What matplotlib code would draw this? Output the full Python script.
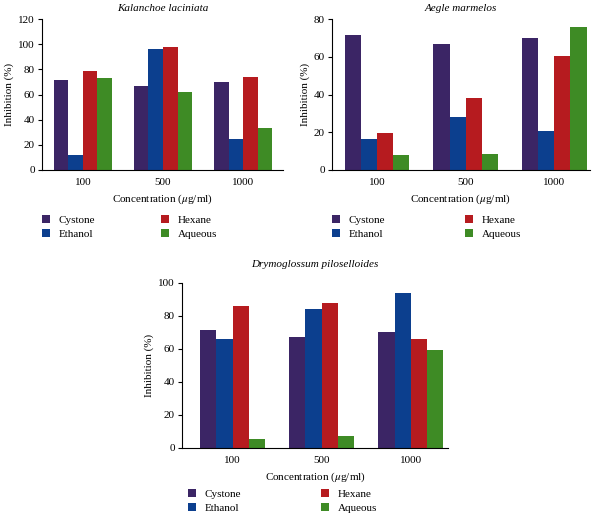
import matplotlib
matplotlib.use("Agg")
import matplotlib.pyplot as plt
import numpy as np

plt.rcParams["font.family"] = ["Liberation Serif", "DejaVu Serif"]
plt.rcParams["mathtext.fontset"] = "stix"

concentrations = ["100", "500", "1000"]
series = ["Cystone", "Ethanol", "Hexane", "Aqueous"]
colors = ["#3b2565", "#0c3f8e", "#b61b1f", "#3e8b25"]

kalanchoe_cystone = [71.2, 66.4, 69.9]
kalanchoe_ethanol = [12.2, 95.9, 24.7]
kalanchoe_hexane = [78.6, 97.5, 74.1]
kalanchoe_aqueous = [73.0, 61.9, 33.2]

aegle_cystone = [71.5, 66.7, 69.9]
aegle_ethanol = [16.6, 28.0, 20.5]
aegle_hexane = [19.8, 37.9, 60.2]
aegle_aqueous = [8.1, 8.7, 75.9]

drymo_cystone = [71.3, 66.9, 70.1]
drymo_ethanol = [66.1, 84.0, 93.5]
drymo_hexane = [85.7, 87.7, 65.9]
drymo_aqueous = [5.1, 6.9, 59.4]

# title, data, axes rect, ylim, yticks, xlim, legend anchor, column spacing, title pad
panels = [
    ("Kalanchoe laciniata",
     [kalanchoe_cystone, kalanchoe_ethanol, kalanchoe_hexane, kalanchoe_aqueous],
     [0.070, 0.670, 0.402, 0.293], (0, 120), np.arange(0, 121, 20), (-0.51, 2.5),
     (0.070, 0.582), 5.95, 6),
    ("Aegle marmelos",
     [aegle_cystone, aegle_ethanol, aegle_hexane, aegle_aqueous],
     [0.553, 0.670, 0.430, 0.293], (0, 80), np.arange(0, 81, 20), (-0.51, 2.4),
     (0.553, 0.582), 7.2, 6),
    ("Drymoglossum piloselloides",
     [drymo_cystone, drymo_ethanol, drymo_hexane, drymo_aqueous],
     [0.303, 0.131, 0.444, 0.320], (0, 100), np.arange(0, 101, 20), (-0.57, 2.42),
     (0.313, 0.050), 7.2, 11),
]

fig = plt.figure(figsize=(6.0, 5.15), dpi=100)
width = 0.182
x = np.arange(len(concentrations))

for title, values, rect, ylim, yticks, xlim, leg_pos, colspace, tpad in panels:
    ax = fig.add_axes(rect)
    handles = []
    for i, (name, vals) in enumerate(zip(series, values)):
        h = ax.bar(x + (i - 1.5) * width, vals, width, color=colors[i], label=name)
        handles.append(h)
    ax.set_ylim(*ylim)
    ax.set_yticks(yticks)
    ax.set_xlim(*xlim)
    ax.set_xticks(x)
    ax.set_xticklabels(concentrations)
    ax.spines["top"].set_visible(False)
    ax.spines["right"].set_visible(False)
    ax.spines["left"].set_linewidth(0.8)
    ax.spines["bottom"].set_linewidth(0.8)
    ax.tick_params(axis="y", labelsize=8, length=3, width=0.8, pad=2)
    ax.tick_params(axis="x", labelsize=8, length=0, pad=6)
    ax.set_title(title, fontsize=8, style="italic", pad=tpad)
    ax.set_ylabel("Inhibition (%)", fontsize=8, labelpad=3)
    ax.set_xlabel(r"Concentration ($\mu$g/ml)", fontsize=8, labelpad=4)
    fig.legend(handles=handles, loc="upper left", bbox_to_anchor=leg_pos,
               ncol=2, frameon=False, fontsize=8, handlelength=0.7,
               handleheight=0.7, handletextpad=0.8, columnspacing=colspace,
               labelspacing=0.35, borderaxespad=0, borderpad=0)

fig.savefig("out.png", dpi=100)
